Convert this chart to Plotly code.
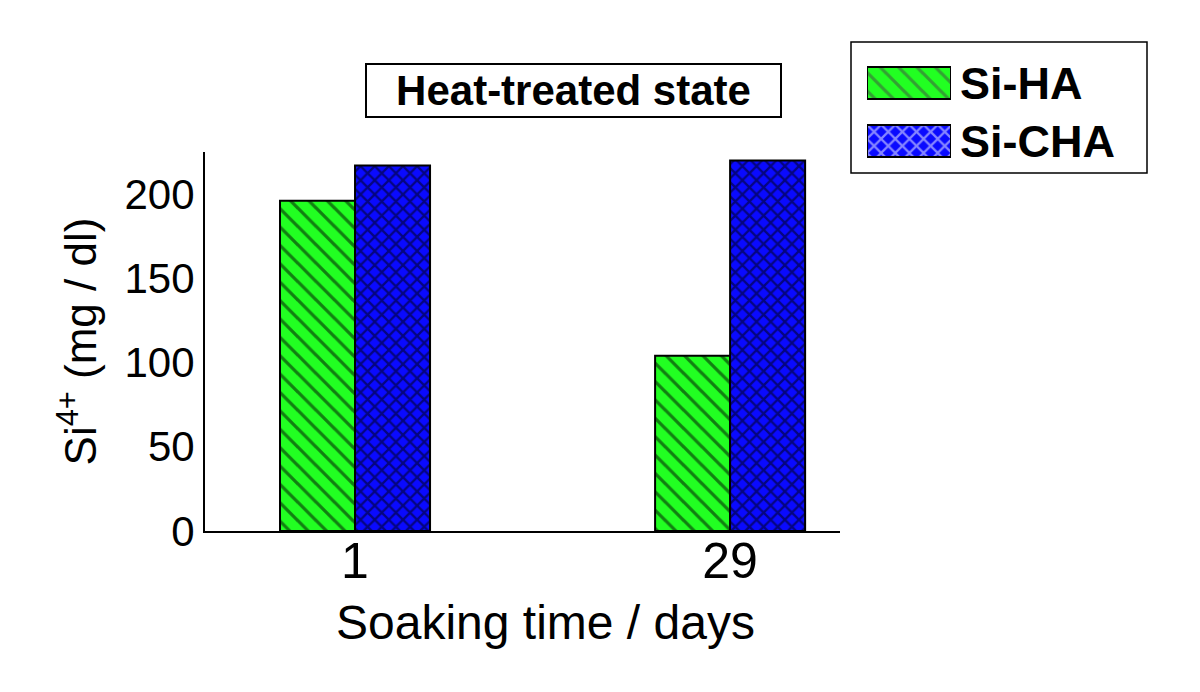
import plotly.graph_objects as go

days = ["1", "29"]
series = ["Si-HA", "Si-CHA"]
si_ha = [196, 104]
si_cha = [217, 220]

green = "#22ff22"
blue = "#0a0aff"

# paper spans pixels x 205..1168, y 38..531 (page has an 8px body margin)
PX0, PW, PY0, PH = 205, 963, 531, 493


def px(x):
    return (x - PX0) / PW


def py(y):
    return (PY0 - y) / PH


ha_pattern = dict(shape="\\", fgcolor="black", size=13, solidity=0.25)
cha_pattern = dict(shape="x", fgcolor="black", size=10, solidity=0.4)

fig = go.Figure()
fig.add_trace(go.Bar(
    x=days, y=si_ha, name=series[0], showlegend=False,
    marker=dict(color=green, line=dict(color="black", width=2), pattern=ha_pattern),
))
fig.add_trace(go.Bar(
    x=days, y=si_cha, name=series[1], showlegend=False,
    marker=dict(color=blue, line=dict(color="black", width=2), pattern=cha_pattern),
))

# legend swatches drawn as a small inset bar chart
fig.add_trace(go.Bar(
    y=series, x=[1, 1], orientation="h", width=0.55, showlegend=False,
    xaxis="x2", yaxis="y2", hoverinfo="skip",
    marker=dict(color=[green, blue], line=dict(color="black", width=2),
                pattern=dict(shape=["\\", "x"], fgcolor="black",
                             size=[13, 10], solidity=[0.25, 0.4])),
))

fig.update_layout(
    width=1200, height=692,
    barmode="group", bargap=0.6, bargroupgap=0,
    plot_bgcolor="white", paper_bgcolor="white",
    font=dict(family="Liberation Sans, Arial, sans-serif", color="black"),
    margin=dict(l=197, r=40, t=30, b=169),
    xaxis=dict(
        domain=[0, px(840)],
        range=[-0.4, 1.293], showline=True, linecolor="black", linewidth=2,
        ticks="", tickfont=dict(size=50), ticklabelstandoff=-15, automargin=False,
    ),
    yaxis=dict(
        domain=[0, py(152)],
        range=[0, 225], showline=True, linecolor="black", linewidth=2,
        showgrid=False, zeroline=False, ticks="", automargin=False,
        tickvals=[0, 50, 100, 150, 200], tickfont=dict(size=42),
        title=dict(text="Si<sup>4+</sup> (mg / dl)", font=dict(size=44), standoff=14),
    ),
    xaxis2=dict(domain=[px(867), px(951)], anchor="y2", range=[0, 1],
                visible=False, fixedrange=True),
    yaxis2=dict(domain=[py(170), py(54)], anchor="x2", side="right",
                autorange="reversed", showline=False, showgrid=False,
                zeroline=False, ticks="", ticklabelstandoff=8,
                tickfont=dict(size=45, weight="bold"), fixedrange=True),
    shapes=[dict(
        type="rect", xref="paper", yref="paper",
        x0=px(851), x1=px(1147), y0=py(173), y1=py(42),
        line=dict(color="black", width=1.5), layer="below",
    )],
    annotations=[
        dict(
            text="<b>Heat-treated state</b>", xref="paper", yref="paper",
            x=px(573), y=py(118), xanchor="center", yanchor="bottom", showarrow=False,
            font=dict(size=42), bordercolor="black", borderwidth=2, borderpad=4,
            width=405, height=43, bgcolor="white",
        ),
        dict(
            text="Soaking time / days", xref="paper", yref="paper",
            x=px(545), y=py(622), xanchor="center", yanchor="middle",
            showarrow=False, font=dict(size=48),
        ),
    ],
)

fig.write_html("out.html")
